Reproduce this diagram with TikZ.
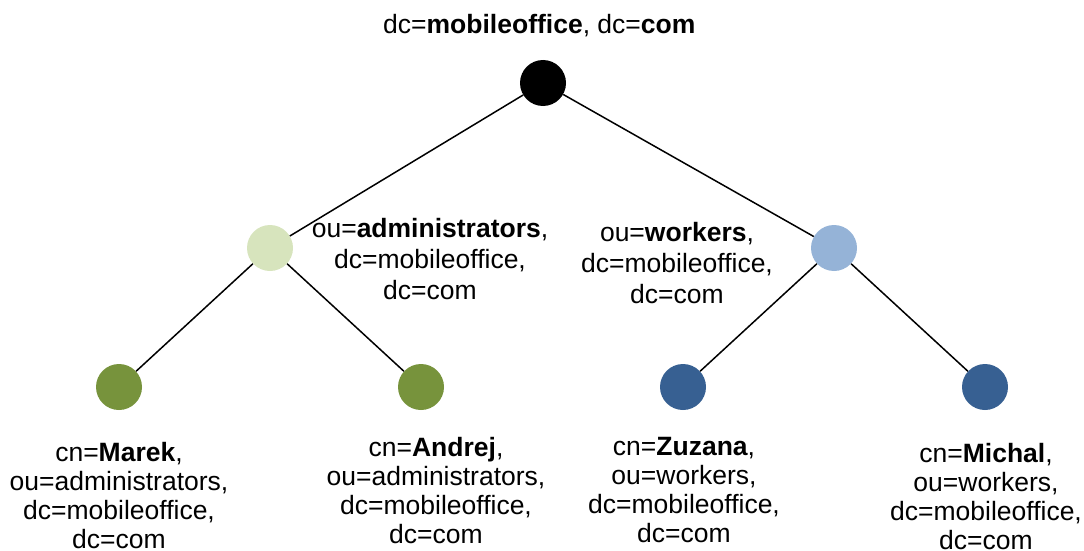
\documentclass[tikz,border=0pt]{standalone}
\usepackage{fontspec}
\setmainfont{Liberation Sans}
\definecolor{adminlight}{HTML}{D7E4BD}
\definecolor{workerlight}{HTML}{95B3D7}
\definecolor{admindark}{HTML}{77933C}
\definecolor{workerdark}{HTML}{376092}

\begin{document}
\begin{tikzpicture}[x = 1pt, y = -1pt,
	edge from parent/.style = { draw, line width = 1.5pt },
	every node/.style = { font = \fontsize{26.5}{31}\selectfont },
	dn/.style = { circle, inner sep = 0pt, minimum size = 46pt },
	dnlabel/.style = { anchor = north, align = center, inner sep = 0pt },
	leaflabel/.style = { dnlabel, font = \fontsize{26.5}{29}\selectfont },
	level 1/.style = { level distance = 165pt, sibling distance = 564pt },
	level 2/.style = { level distance = 139pt, sibling distance = 302pt }]
	\useasboundingbox (0,0) rectangle (1084,551);
	\node [dn, fill = black] (root) at (543,83) { }
	child [xshift = 9pt] {
		node [dn, fill = adminlight] (admins) { }
		child { node [dn, fill = admindark] (marek) { } }
		child { node [dn, fill = admindark] (andrej) { } }
	}
	child [xshift = 9pt] {
		node [dn, fill = workerlight] (workers) { }
		child { node [dn, fill = workerdark] (zuzana) { } }
		child { node [dn, fill = workerdark] (michal) { } }
	};
	% distinguished names
	\node [dnlabel] (rootlabel) at (543,14) { dc=\textbf{mobileoffice}, dc=\textbf{com} };
	\node [dnlabel] (adminslabel) at (430,218) { ou=\textbf{administrators},\\ dc=mobileoffice,\\ dc=com };
	\node [dnlabel] (workerslabel) at (677,222) { ou=\textbf{workers},\\ dc=mobileoffice,\\ dc=com };
	\node [leaflabel] (mareklabel) at (119,442) { cn=\textbf{Marek},\\ ou=administrators,\\ dc=mobileoffice,\\ dc=com };
	\node [leaflabel] (andrejlabel) at (436,437) { cn=\textbf{Andrej},\\ ou=administrators,\\ dc=mobileoffice,\\ dc=com };
	\node [leaflabel] (zuzanalabel) at (684,437) { cn=\textbf{Zuzana},\\ ou=workers,\\ dc=mobileoffice,\\ dc=com };
	\node [leaflabel] (michallabel) at (986,443) { cn=\textbf{Michal},\\ ou=workers,\\ dc=mobileoffice,\\ dc=com };
\end{tikzpicture}
\end{document}
